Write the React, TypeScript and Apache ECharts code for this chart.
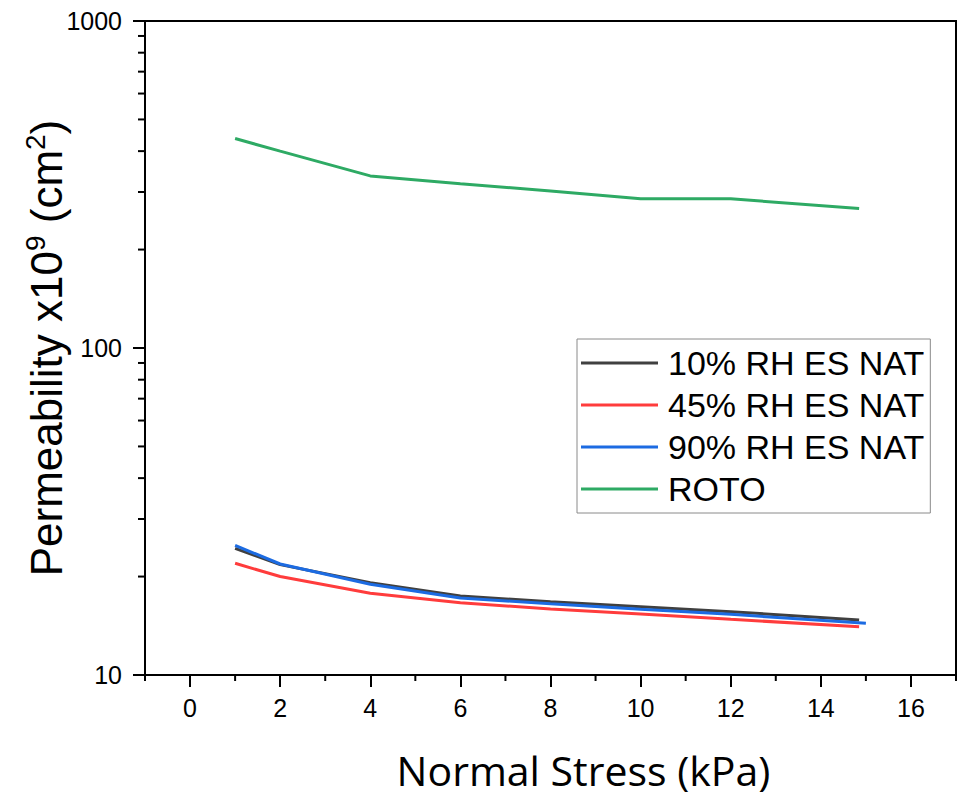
import React, { useEffect, useRef } from 'react';
import * as echarts from 'echarts';

// Normal stress (kPa)
const STRESS = [1, 2, 4, 6, 8, 10, 12, 14.85];
const STRESS_90 = [1, 2, 4, 6, 8, 10, 12, 15];

// Permeability x10^9 (cm^2)
const RH10 = [24.4, 21.75, 19.16, 17.44, 16.75, 16.17, 15.62, 14.73];
const RH45 = [21.96, 20.0, 17.78, 16.64, 15.92, 15.37, 14.8, 14.05];
const RH90 = [24.9, 21.85, 18.94, 17.2, 16.52, 15.88, 15.33, 14.39];
const ROTO = [437, 400, 336, 318, 302, 286, 286, 267];

const NAMES = ['10% RH ES NAT', '45% RH ES NAT', '90% RH ES NAT', 'ROTO'];
const COLORS = ['#404040', '#ff3c3c', '#1c6be2', '#2eaa64'];

const X_MAJOR = [0, 2, 4, 6, 8, 10, 12, 14, 16];
const X_MINOR = [-1, 1, 3, 5, 7, 9, 11, 13, 15, 17];
const Y_MINOR = [20, 30, 40, 50, 60, 70, 80, 90, 200, 300, 400, 500, 600, 700, 800, 900];

const pairs = (xs: number[], ys: number[]) => xs.map((x, i) => [x, ys[i]]);

export default function App() {
  const ref = useRef<HTMLDivElement>(null);
  useEffect(() => {
    document.body.style.margin = '0';
    const chart = echarts.init(ref.current!, null, { renderer: 'svg' });
    const axisFont = 'Liberation Sans, Arial, sans-serif';
    const tickStyle = { color: '#000', width: 2 };
    const lineSeries = (name: string, xs: number[], ys: number[], color: string) => ({
      name,
      type: 'line',
      data: pairs(xs, ys),
      symbol: 'none',
      showSymbol: false,
      lineStyle: { color, width: 3 },
      itemStyle: { color },
    });
    chart.setOption({
      animation: false,
      backgroundColor: '#fff',
      grid: {
        left: 145,
        right: 11,
        top: 21,
        bottom: 122,
        show: true,
        borderColor: '#000',
        borderWidth: 2,
        containLabel: false,
        outerBoundsMode: 'none',
      },
      legend: {
        orient: 'vertical',
        left: 577,
        top: 339,
        icon: 'rect',
        itemWidth: 77,
        itemHeight: 3,
        itemGap: 6,
        padding: [6, 6, 6, 4],
        borderColor: '#8a8a8a',
        borderWidth: 1,
        backgroundColor: '#fff',
        data: NAMES,
        textStyle: {
          fontSize: 34,
          fontFamily: axisFont,
          color: '#000',
          lineHeight: 36,
          padding: [0, 0, 0, 5],
        },
      },
      xAxis: {
        type: 'value',
        min: -1,
        max: 17,
        position: 'bottom',
        axisLine: { show: true, onZero: false, lineStyle: tickStyle },
        axisTick: { show: true, customValues: X_MAJOR, length: 12, inside: false, lineStyle: tickStyle },
        axisLabel: {
          customValues: X_MAJOR,
          margin: 20,
          fontSize: 25,
          fontFamily: axisFont,
          color: '#000',
        },
        splitLine: { show: false },
        name: 'Normal Stress (kPa)',
        nameLocation: 'middle',
        nameGap: 72,
        nameMoveOverlap: false,
        nameTextStyle: {
          fontSize: 41,
          lineHeight: 46,
          fontFamily: 'Open Sans, sans-serif',
          color: '#000',
          padding: [0, 0, 0, 66],
        },
      },
      yAxis: {
        type: 'log',
        logBase: 10,
        min: 10,
        max: 1000,
        axisLine: { show: true, onZero: false, lineStyle: tickStyle },
        axisTick: { show: true, length: 12, inside: false, lineStyle: tickStyle },
        axisLabel: {
          margin: 23,
          fontSize: 25,
          fontFamily: axisFont,
          color: '#000',
          formatter: (v: number) => String(Math.round(v)),
        },
        splitLine: { show: false },
        minorTick: { show: false },
        name: '{t|Permeability x10}{s|9}{t| (cm}{s|2}{t|)}',
        nameLocation: 'middle',
        nameRotate: 90,
        nameGap: 74,
        nameMoveOverlap: false,
        nameTextStyle: {
          rich: {
            t: { fontSize: 44, fontFamily: axisFont, color: '#000', lineHeight: 50 },
            s: { fontSize: 28, fontFamily: axisFont, color: '#000', lineHeight: 30, verticalAlign: 'top' },
          },
        },
      },
      series: [
        lineSeries(NAMES[0], STRESS, RH10, COLORS[0]),
        lineSeries(NAMES[1], STRESS, RH45, COLORS[1]),
        lineSeries(NAMES[2], STRESS_90, RH90, COLORS[2]),
        lineSeries(NAMES[3], STRESS, ROTO, COLORS[3]),
        {
          type: 'custom',
          silent: true,
          clip: false,
          data: Y_MINOR.map((v) => [-1, v]),
          renderItem: (_p: any, api: any) => {
            const p = api.coord([api.value(0), api.value(1)]);
            return {
              type: 'line',
              shape: { x1: p[0] - 7, y1: p[1], x2: p[0], y2: p[1] },
              style: { stroke: '#000', lineWidth: 2 },
            };
          },
        },
        {
          type: 'custom',
          silent: true,
          clip: false,
          data: X_MINOR.map((v) => [v, 10]),
          renderItem: (_p: any, api: any) => {
            const p = api.coord([api.value(0), api.value(1)]);
            return {
              type: 'line',
              shape: { x1: p[0], y1: p[1], x2: p[0], y2: p[1] + 6 },
              style: { stroke: '#000', lineWidth: 2 },
            };
          },
        },
      ],
    });
    return () => chart.dispose();
  }, []);
  return <div ref={ref} style={{ width: 967, height: 797 }} />;
}
